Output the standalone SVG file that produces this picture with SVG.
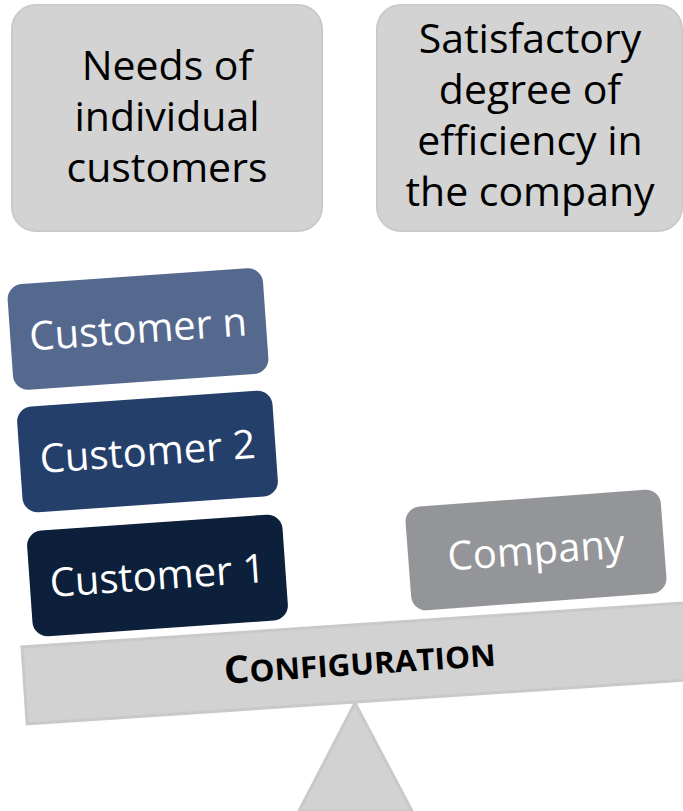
<svg xmlns="http://www.w3.org/2000/svg" width="683" height="811" viewBox="0 0 683 811">
<style>
.goal{fill:#d3d3d3;stroke:#cacaca;stroke-width:2}
.gt{font-family:"Open Sans","Liberation Sans",sans-serif;font-size:41px;fill:#000;text-anchor:middle}
.wt{font-family:"Open Sans","Liberation Sans",sans-serif;font-size:40px;fill:#fff;text-anchor:middle}
.beam{fill:#d2d2d2;stroke:#c9c9c9;stroke-width:3}
.bt{font-family:"Open Sans","Liberation Sans",sans-serif;font-weight:bold;fill:#000;text-anchor:middle}
</style>
<rect width="683" height="811" fill="#fff"/>
<g id="needs">
<rect class="goal" x="12" y="5" width="310" height="226" rx="24"/>
<text class="gt" x="167" y="80">Needs of</text>
<text class="gt" x="167" y="131">individual</text>
<text class="gt" x="167" y="182">customers</text>
</g>
<g id="efficiency">
<rect class="goal" x="377" y="5" width="305" height="226" rx="24"/>
<text class="gt" x="530" y="53">Satisfactory</text>
<text class="gt" x="530" y="104">degree of</text>
<text class="gt" x="530" y="155">efficiency in</text>
<text class="gt" x="530" y="206">the company</text>
</g>
<g id="fulcrum">
<polygon points="355,703 299,811 412,811" fill="#d2d2d2" stroke="#c9c9c9" stroke-width="3"/>
</g>
<g id="configuration" transform="translate(22,647) rotate(-3.8)">
<rect class="beam" x="0" y="0" width="720" height="77"/>
<text class="bt" x="336" y="50" textLength="272" lengthAdjust="spacingAndGlyphs"><tspan font-size="38">C</tspan><tspan font-size="30">ONFIGURATION</tspan></text>
</g>
<g id="customer1" transform="translate(157.5,575.5) rotate(-4)">
<rect x="-128" y="-53" width="256" height="106" rx="15" fill="#0c1f3b"/>
<text class="wt" x="0" y="14">Customer 1</text>
</g>
<g id="customer2" transform="translate(147.5,451.5) rotate(-4)">
<rect x="-128" y="-53" width="256" height="106" rx="15" fill="#253f6b"/>
<text class="wt" x="0" y="14">Customer 2</text>
</g>
<g id="customern" transform="translate(138,329) rotate(-4)">
<rect x="-128" y="-53" width="256" height="106" rx="15" fill="#55698f"/>
<text class="wt" x="0" y="14">Customer n</text>
</g>
<g id="company" transform="translate(536,550) rotate(-4.3)">
<rect x="-128" y="-52" width="256" height="104" rx="15" fill="#939598"/>
<text class="wt" x="0" y="14">Company</text>
</g>
</svg>
